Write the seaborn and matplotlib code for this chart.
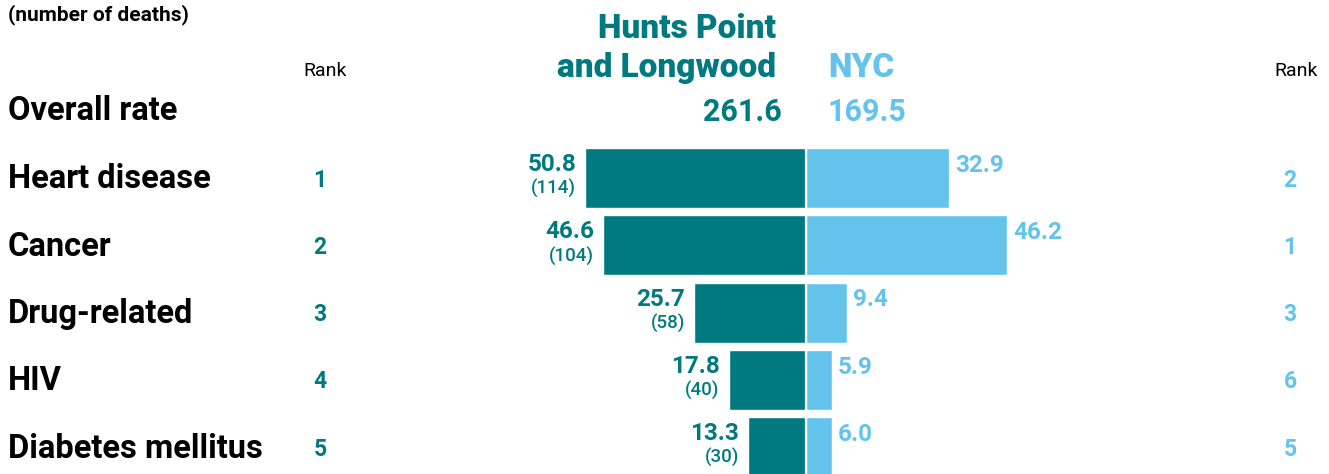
import matplotlib
matplotlib.use("Agg")
import matplotlib.pyplot as plt
from matplotlib.transforms import blended_transform_factory
import seaborn as sns

# Death rates per 100,000 — Hunts Point and Longwood vs. New York City
causes = ["Heart disease", "Cancer", "Drug-related", "HIV", "Diabetes mellitus"]
hp_rate = [50.8, 46.6, 25.7, 17.8, 13.3]
hp_deaths = [114, 104, 58, 40, 30]
nyc_rate = [32.9, 46.2, 9.4, 5.9, 6.0]
hp_rank = [1, 2, 3, 4, 5]
nyc_rank = [2, 1, 3, 6, 5]
overall_hp = 261.6
overall_nyc = 169.5

TEAL = "#007A80"
SKY = "#63C3EC"
W, H = 1329, 474

sns.set_theme(style="white")
plt.rcParams["font.family"] = ["Roboto", "DejaVu Sans"]

fig = plt.figure(figsize=(W / 100, H / 100), dpi=100)
ax = fig.add_axes([0, 0, 1, 1])

sns.barplot(x=[-v for v in hp_rate], y=causes, orient="h", color=TEAL,
            saturation=1, width=0.89, ax=ax)
sns.barplot(x=nyc_rate, y=causes, orient="h", color=SKY,
            saturation=1, width=0.89, ax=ax)
ax.axvline(0, color="white", lw=1.6)

scale = 4.35  # pixels per rate unit
ax.set_xlim(-806 / scale, (W - 806) / scale)
ax.set_ylim(4.398, -2.645)
ax.axis("off")

tr = blended_transform_factory(fig.transFigure, ax.transData)

def fx(px):
    return px / W

# header block
ax.text(fx(8), -2.42, "(number of deaths)", transform=tr, fontsize=15,
        fontweight="bold", color="black", va="center", ha="left")
ax.text(fx(325), -1.59, "Rank", transform=tr, fontsize=14,
        color="black", va="center", ha="center")
ax.text(fx(1296), -1.59, "Rank", transform=tr, fontsize=14,
        color="black", va="center", ha="center")
ax.text(fx(776), -2.22, "Hunts Point", transform=tr, fontsize=24,
        fontweight="black", color=TEAL, va="center", ha="right")
ax.text(fx(776), -1.64, "and Longwood", transform=tr, fontsize=24,
        fontweight="black", color=TEAL, va="center", ha="right")
ax.text(fx(828), -1.64, "NYC", transform=tr, fontsize=24,
        fontweight="black", color=SKY, va="center", ha="left")

ax.text(fx(8), -1.0, "Overall rate", transform=tr, fontsize=23.5,
        fontweight="bold", color="black", va="center", ha="left")
ax.text(fx(782), -0.98, f"{overall_hp:.1f}", transform=tr, fontsize=22,
        fontweight="bold", color=TEAL, va="center", ha="right")
ax.text(fx(828), -0.98, f"{overall_nyc:.1f}", transform=tr, fontsize=22,
        fontweight="bold", color=SKY, va="center", ha="left")

# rows
for i, cause in enumerate(causes):
    ax.text(fx(8), i + 0.02, cause, transform=tr, fontsize=23.5,
            fontweight="bold", color="black", va="center", ha="left")
    ax.text(fx(320), i + 0.03, str(hp_rank[i]), transform=tr, fontsize=16.5,
            fontweight="bold", color=TEAL, va="center", ha="center")
    ax.text(fx(1290), i + 0.03, str(nyc_rank[i]), transform=tr, fontsize=16.5,
            fontweight="bold", color=SKY, va="center", ha="center")

    left_x = -hp_rate[i] - 9 / scale
    ax.text(left_x, i - 0.2, f"{hp_rate[i]:.1f}", fontsize=17.5,
            fontweight="bold", color=TEAL, va="center", ha="right")
    ax.text(left_x, i + 0.16, f"({hp_deaths[i]})", fontsize=13.5,
            fontweight="medium", color=TEAL, va="center", ha="right")
    ax.text(nyc_rate[i] + 6 / scale, i - 0.19, f"{nyc_rate[i]:.1f}",
            fontsize=17.5, fontweight="bold", color=SKY, va="center", ha="left")

fig.savefig("out.png", dpi=100)
